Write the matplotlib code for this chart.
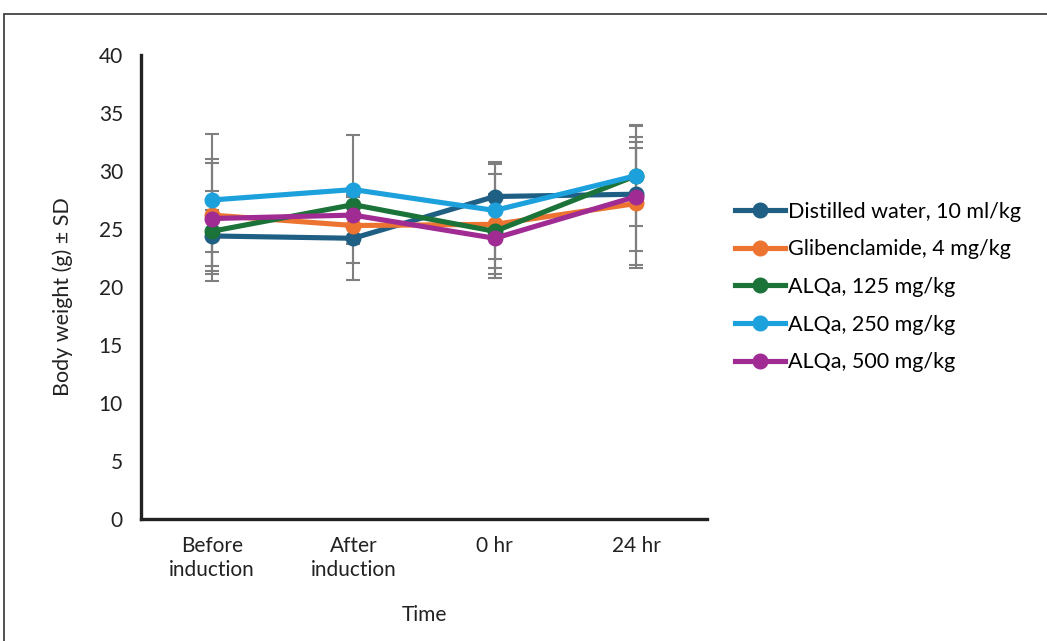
import matplotlib.pyplot as plt
from matplotlib.patches import Rectangle

plt.rcParams['font.family'] = ['Lato', 'DejaVu Sans']

times = ['Before\ninduction', 'After\ninduction', '0 hr', '24 hr']
labels = ['Distilled water, 10 ml/kg', 'Glibenclamide, 4 mg/kg',
          'ALQa, 125 mg/kg', 'ALQa, 250 mg/kg', 'ALQa, 500 mg/kg']
colors = ['#1F5F84', '#EC7430', '#1B7339', '#1DA1DC', '#A02C93']

water = [24.4, 24.2, 27.8, 28.0]
water_sd = [3.9, 3.6, 2.8, 4.9]
glib = [26.2, 25.3, 25.4, 27.2]
glib_sd = [4.8, 3.2, 4.3, 5.3]
alqa125 = [24.8, 27.1, 24.8, 29.6]
alqa125_sd = [1.8, 0.8, 3.2, 2.4]
alqa250 = [27.5, 28.4, 26.6, 29.6]
alqa250_sd = [5.7, 4.7, 4.2, 4.3]
alqa500 = [25.9, 26.2, 24.2, 27.8]
alqa500_sd = [4.8, 1.0, 3.45, 6.2]

means = [water, glib, alqa125, alqa250, alqa500]
sds = [water_sd, glib_sd, alqa125_sd, alqa250_sd, alqa500_sd]

fig = plt.figure(figsize=(10.47, 6.41), dpi=100)
fig.patches.append(Rectangle((4/1047, -0.1), 1.2, (641-14)/641 + 0.1, transform=fig.transFigure,
                             fill=False, edgecolor='#333333', lw=1.2))
ax = fig.add_axes([141/1047, 122/641, 566/1047, 464/641])

x = list(range(len(times)))
for m, s in zip(means, sds):
    ax.errorbar(x, m, yerr=s, fmt='none', ecolor='#7F7F7F', elinewidth=1.5,
                capsize=5, capthick=1.5, zorder=1)
for m, c, lab in zip(means, colors, labels):
    ax.plot(x, m, color=c, lw=3.7, marker='o', markersize=10.5, label=lab, zorder=3)

ax.set_xlim(-0.5, 3.5)
ax.set_ylim(0, 40)
ax.set_yticks(range(0, 41, 5))
ax.set_xticks(x)
ax.set_xticklabels(times, fontsize=15, color='#222222', linespacing=1.3)
ax.tick_params(axis='both', length=0, labelsize=15, labelcolor='#222222')
ax.tick_params(axis='y', pad=13)
ax.tick_params(axis='x', pad=12)
for side in ['top', 'right']:
    ax.spines[side].set_visible(False)
for side in ['left', 'bottom']:
    ax.spines[side].set_linewidth(2.4)
    ax.spines[side].set_color('#222222')

ax.set_ylabel('Body weight (g) ± SD', fontsize=15.5, color='#222222')
ax.yaxis.set_label_coords(-0.12, 0.48)
ax.set_xlabel('Time', fontsize=15, color='#222222', labelpad=18)

ax.legend(loc='center left', bbox_to_anchor=(1.035, 0.5), frameon=False, fontsize=15.5,
          handlelength=2.3, handletextpad=0.15, labelspacing=0.82, borderaxespad=0)

fig.savefig('out.png', dpi=100)
